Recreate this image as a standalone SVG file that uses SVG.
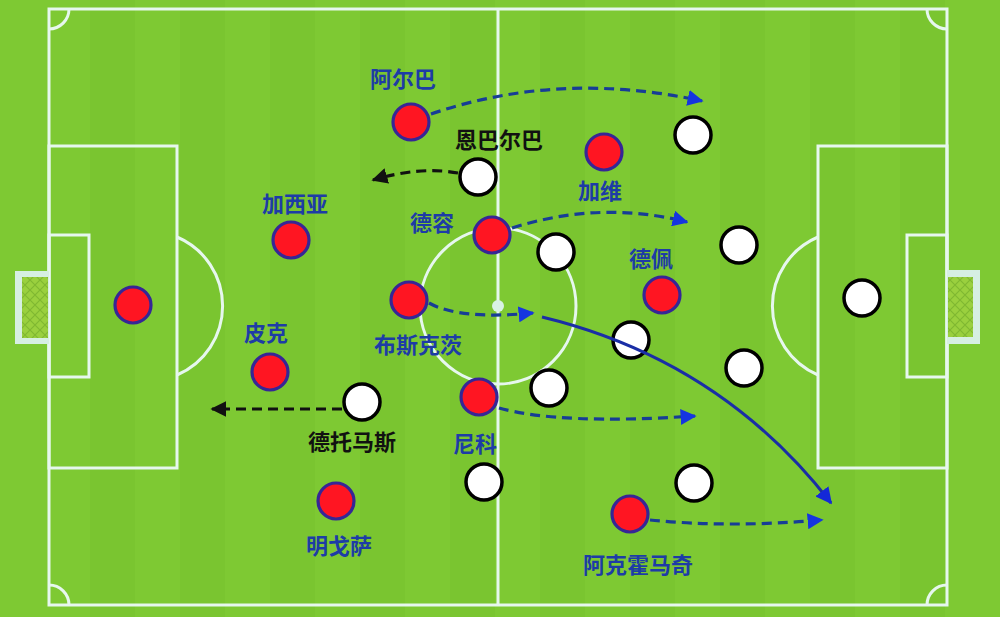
<svg xmlns="http://www.w3.org/2000/svg" width="1000" height="617" viewBox="0 0 1000 617">
<defs>
<style>
.line{fill:none;stroke:#e6f7ee;stroke-width:3}
.red{fill:#ff1522;stroke:#362696;stroke-width:3.2}
.white{fill:#ffffff;stroke:#000;stroke-width:3.5}
.lb{font-family:"Noto Sans CJK SC","Noto Sans",sans-serif;font-weight:bold;font-size:22px;text-anchor:middle;dominant-baseline:central}
.blue{fill:#1d3ca6}
.blk{fill:#111}
.dashb{fill:none;stroke:#173d96;stroke-width:3.2;stroke-dasharray:10 6}
.dashk{fill:none;stroke:#111;stroke-width:3.2;stroke-dasharray:10 6}
.solid{fill:none;stroke:#1a2ea6;stroke-width:3}
.stripe{fill:#76c22e;opacity:0.5}
</style>
<pattern id="net" width="10" height="10" patternUnits="userSpaceOnUse">
<rect width="10" height="10" fill="#9ad03e"/>
<path d="M0,0 L10,10 M10,0 L0,10" stroke="#7fb830" stroke-width="1.2"/>
</pattern>
<marker id="ab" viewBox="0 0 10 10" refX="9" refY="5" markerWidth="5" markerHeight="5" orient="auto" markerUnits="strokeWidth">
<path d="M0,0 L10,5 L0,10 z" fill="#1535e0"/>
</marker>
<marker id="as" viewBox="0 0 10 10" refX="9" refY="5" markerWidth="5.5" markerHeight="5.5" orient="auto" markerUnits="strokeWidth">
<path d="M0,0 L10,5 L0,10 z" fill="#1428d8"/>
</marker>
<marker id="ak" viewBox="0 0 10 10" refX="9" refY="5" markerWidth="5" markerHeight="5" orient="auto" markerUnits="strokeWidth">
<path d="M0,0 L10,5 L0,10 z" fill="#111"/>
</marker>
</defs>
<rect width="1000" height="617" fill="#7ec933"/>
<g id="stripes">
<rect class="stripe" x="90" y="0" width="45" height="617"/>
<rect class="stripe" x="180" y="0" width="45" height="617"/>
<rect class="stripe" x="270" y="0" width="45" height="617"/>
<rect class="stripe" x="360" y="0" width="45" height="617"/>
<rect class="stripe" x="450" y="0" width="45" height="617"/>
<rect class="stripe" x="540" y="0" width="45" height="617"/>
<rect class="stripe" x="630" y="0" width="45" height="617"/>
<rect class="stripe" x="720" y="0" width="45" height="617"/>
<rect class="stripe" x="810" y="0" width="45" height="617"/>
<rect class="stripe" x="900" y="0" width="45" height="617"/>
</g>
<g id="pitch">
<rect class="line" x="49" y="9" width="898" height="596"/>
<line class="line" x1="498" y1="9" x2="498" y2="605"/>
<circle class="line" cx="498" cy="306" r="78"/>
<circle cx="498" cy="306" r="6" fill="#d8f2e4"/>
<rect class="line" x="49" y="146" width="128" height="322"/>
<rect class="line" x="49" y="235" width="40" height="142"/>
<path class="line" d="M177,237 A75,75 0 0 1 177,375"/>
<rect class="line" x="818" y="146" width="129" height="322"/>
<rect class="line" x="907" y="235" width="40" height="142"/>
<path class="line" d="M818,237 A75,75 0 0 0 818,375"/>
<path class="line" d="M49,29 A20,20 0 0 0 69,9"/>
<path class="line" d="M927,9 A20,20 0 0 0 947,29"/>
<path class="line" d="M49,585 A20,20 0 0 1 69,605"/>
<path class="line" d="M947,585 A20,20 0 0 0 927,605"/>
<rect x="15" y="271" width="34" height="73" fill="#d6efe2"/>
<rect x="22" y="277" width="26" height="61" fill="url(#net)"/>
<rect x="947" y="270" width="33" height="74" fill="#d6efe2"/>
<rect x="948" y="277" width="25" height="60" fill="url(#net)"/>
</g>
<g id="p-gk"><circle class="red" cx="133" cy="305" r="18"/></g>
<g id="p-garcia"><circle class="red" cx="291" cy="240" r="18"/><text class="lb blue" x="295" y="202">加西亚</text></g>
<g id="p-pique"><circle class="red" cx="270" cy="372" r="18"/><text class="lb blue" x="266" y="331">皮克</text></g>
<g id="p-mingueza"><circle class="red" cx="336" cy="501" r="18"/><text class="lb blue" x="339" y="544">明戈萨</text></g>
<g id="p-alba"><circle class="red" cx="411" cy="122" r="18"/><text class="lb blue" x="403" y="77">阿尔巴</text></g>
<g id="p-dejong"><circle class="red" cx="492" cy="235" r="18"/><text class="lb blue" x="432" y="221">德容</text></g>
<g id="p-busquets"><circle class="red" cx="409" cy="300" r="18"/><text class="lb blue" x="418" y="343">布斯克茨</text></g>
<g id="p-nico"><circle class="red" cx="479" cy="397" r="18"/><text class="lb blue" x="475" y="442">尼科</text></g>
<g id="p-gavi"><circle class="red" cx="604" cy="152" r="18"/><text class="lb blue" x="600" y="189">加维</text></g>
<g id="p-depay"><circle class="red" cx="662" cy="295" r="18"/><text class="lb blue" x="651" y="257">德佩</text></g>
<g id="p-abde"><circle class="red" cx="630" cy="514" r="18"/><text class="lb blue" x="638" y="563">阿克霍马奇</text></g>
<g id="o-mbarba"><circle class="white" cx="478" cy="177" r="18"/><text class="lb blk" x="499" y="138">恩巴尔巴</text></g>
<g id="o-detomas"><circle class="white" cx="362" cy="402" r="18"/><text class="lb blk" x="352" y="440">德托马斯</text></g>
<g id="o-1"><circle class="white" cx="693" cy="135" r="18"/></g>
<g id="o-2"><circle class="white" cx="556" cy="252" r="18"/></g>
<g id="o-3"><circle class="white" cx="739" cy="245" r="18"/></g>
<g id="o-gk"><circle class="white" cx="862" cy="298" r="18"/></g>
<g id="o-4"><circle class="white" cx="631" cy="340" r="18"/></g>
<g id="o-5"><circle class="white" cx="744" cy="368" r="18"/></g>
<g id="o-6"><circle class="white" cx="549" cy="388" r="18"/></g>
<g id="o-7"><circle class="white" cx="484" cy="482" r="18"/></g>
<g id="o-8"><circle class="white" cx="694" cy="483" r="18"/></g>
<g id="connectors">
<path class="dashb" d="M431,114 Q560,70 702,101" marker-end="url(#ab)"/>
<path class="dashk" d="M458,173 Q420,166 373,180" marker-end="url(#ak)"/>
<path class="dashb" d="M512,228 Q600,200 687,222" marker-end="url(#ab)"/>
<path class="dashb" d="M429,303 Q460,320 533,313" marker-end="url(#ab)"/>
<path class="solid" d="M542,317 Q720,360 831,503" marker-end="url(#as)"/>
<path class="dashb" d="M499,408 Q560,425 695,416" marker-end="url(#ab)"/>
<path class="dashk" d="M342,409 L212,409" marker-end="url(#ak)"/>
<path class="dashb" d="M650,520 Q730,528 822,520" marker-end="url(#ab)"/>
</g>
</svg>
